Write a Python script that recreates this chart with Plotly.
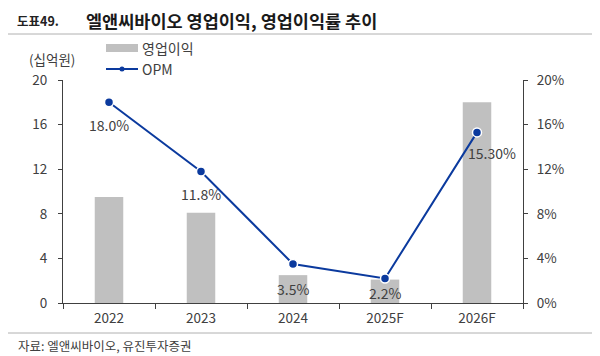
import plotly.graph_objects as go

categories = ["2022", "2023", "2024", "2025F", "2026F"]
op_income = [9.5, 8.1, 2.5, 2.1, 18.0]
opm = [18.0, 11.8, 3.5, 2.2, 15.3]
opm_labels = ["18.0%", "11.8%", "3.5%", "2.2%", "15.30%"]
label_dx = [0, 0, 0, 0, 15]
label_dy = [-23, -23, -25, -15, -21]
left_ticks = [0, 4, 8, 12, 16, 20]
right_ticks = [0, 4, 8, 12, 16, 20]
right_tick_text = ["0%", "4%", "8%", "12%", "16%", "20%"]

FONT = "Noto Sans CJK KR"
TXT = "#404040"
LINE = "#0b3a9e"
BAR = "#c0c0c0"

OFF = 8  # page body margin
W, H = 600, 356
# target plot area in page pixels: x 63..523, y 80..303
ML = 63 - OFF
MT = 80 - OFF
MR = W - (523 - OFF)
MB = H - (303 - OFF)
pw = W - ML - MR
ph = H - MT - MB


def px(x):
    return (x - OFF - ML) / pw


def py(y):
    return (H - MB - (y - OFF)) / ph


fig = go.Figure()
fig.add_trace(go.Bar(
    x=categories, y=op_income, name="영업이익",
    marker=dict(color=BAR, line=dict(width=0)),
    width=0.31, yaxis="y", showlegend=False,
))
fig.add_trace(go.Scatter(
    x=categories, y=opm, name="OPM", yaxis="y2",
    mode="lines+markers", showlegend=False,
    line=dict(color=LINE, width=2),
    marker=dict(color=LINE, size=9, line=dict(color="white", width=1.5)),
))

for i, (v, t) in enumerate(zip(opm, opm_labels)):
    fig.add_annotation(x=i, y=v, xref="x", yref="y2", text=t, showarrow=False,
                       xshift=label_dx[i], yshift=label_dy[i],
                       font=dict(family=FONT, size=14, color=TXT))

fig.update_layout(
    width=W, height=H,
    margin=dict(l=ML, r=MR, t=MT, b=MB, autoexpand=False),
    paper_bgcolor="white", plot_bgcolor="white",
    font=dict(family=FONT, size=13, color=TXT),
    showlegend=False,
    xaxis=dict(
        type="category", showline=True, linecolor="#404040", linewidth=1.2,
        ticks="outside", tickson="boundaries", ticklen=5, tickcolor="#404040",
        showgrid=False, tickangle=0, ticklabelstandoff=3,
        tickfont=dict(family=FONT, size=13.5, color=TXT),
    ),
    yaxis=dict(
        range=[0, 20], tickvals=left_ticks, showline=True, linecolor="#404040",
        linewidth=1.2, ticks="outside", ticklen=4, tickcolor="#404040",
        showgrid=False, zeroline=False, ticklabelstandoff=8,
        tickfont=dict(family=FONT, size=13.5, color=TXT),
    ),
    yaxis2=dict(
        range=[0, 20], tickvals=right_ticks, ticktext=right_tick_text,
        overlaying="y", side="right", showline=True, linecolor="#404040",
        linewidth=1.2, ticks="outside", ticklen=4, tickcolor="#404040",
        showgrid=False, zeroline=False, ticklabelstandoff=6,
        tickfont=dict(family=FONT, size=13.5, color=TXT),
    ),
)


def text(t, x, y, size, color=TXT, anchor="left"):
    fig.add_annotation(text=t, showarrow=False, xref="paper", yref="paper",
                       x=px(x), y=py(y), xanchor=anchor, yanchor="middle",
                       font=dict(family=FONT, size=size, color=color))


text("<b>도표49.</b>", 15, 21, 12.5, "#222")
text("<b>엘앤씨바이오 영업이익, 영업이익률 추이</b>", 84, 21, 17.5, "#1a1a1a")
text("(십억원)", 27, 59, 13.5)
text("자료: 엘앤씨바이오, 유진투자증권", 16, 345, 12.5)
text("영업이익", 140, 48, 14)
text("OPM", 140, 69, 14)

# legend symbols
fig.add_shape(type="rect", xref="paper", yref="paper", x0=px(106), x1=px(138),
              y0=py(52), y1=py(44), fillcolor=BAR, line=dict(width=0))
fig.add_shape(type="line", xref="paper", yref="paper", x0=px(106), x1=px(138),
              y0=py(69), y1=py(69), line=dict(color=LINE, width=2))
fig.add_shape(type="circle", xref="paper", yref="paper", x0=px(119.5), x1=px(124.5),
              y0=py(71.5), y1=py(66.5), fillcolor=LINE, line=dict(width=0))

fig.add_shape(type="line", xref="paper", yref="paper", x0=px(5), x1=px(593), y0=py(34), y1=py(34),
              line=dict(color="#b0b0b0", width=1))
fig.add_shape(type="line", xref="paper", yref="paper", x0=px(5), x1=px(593), y0=py(333), y1=py(333),
              line=dict(color="#b0b0b0", width=1))

fig.write_html("out.html")
